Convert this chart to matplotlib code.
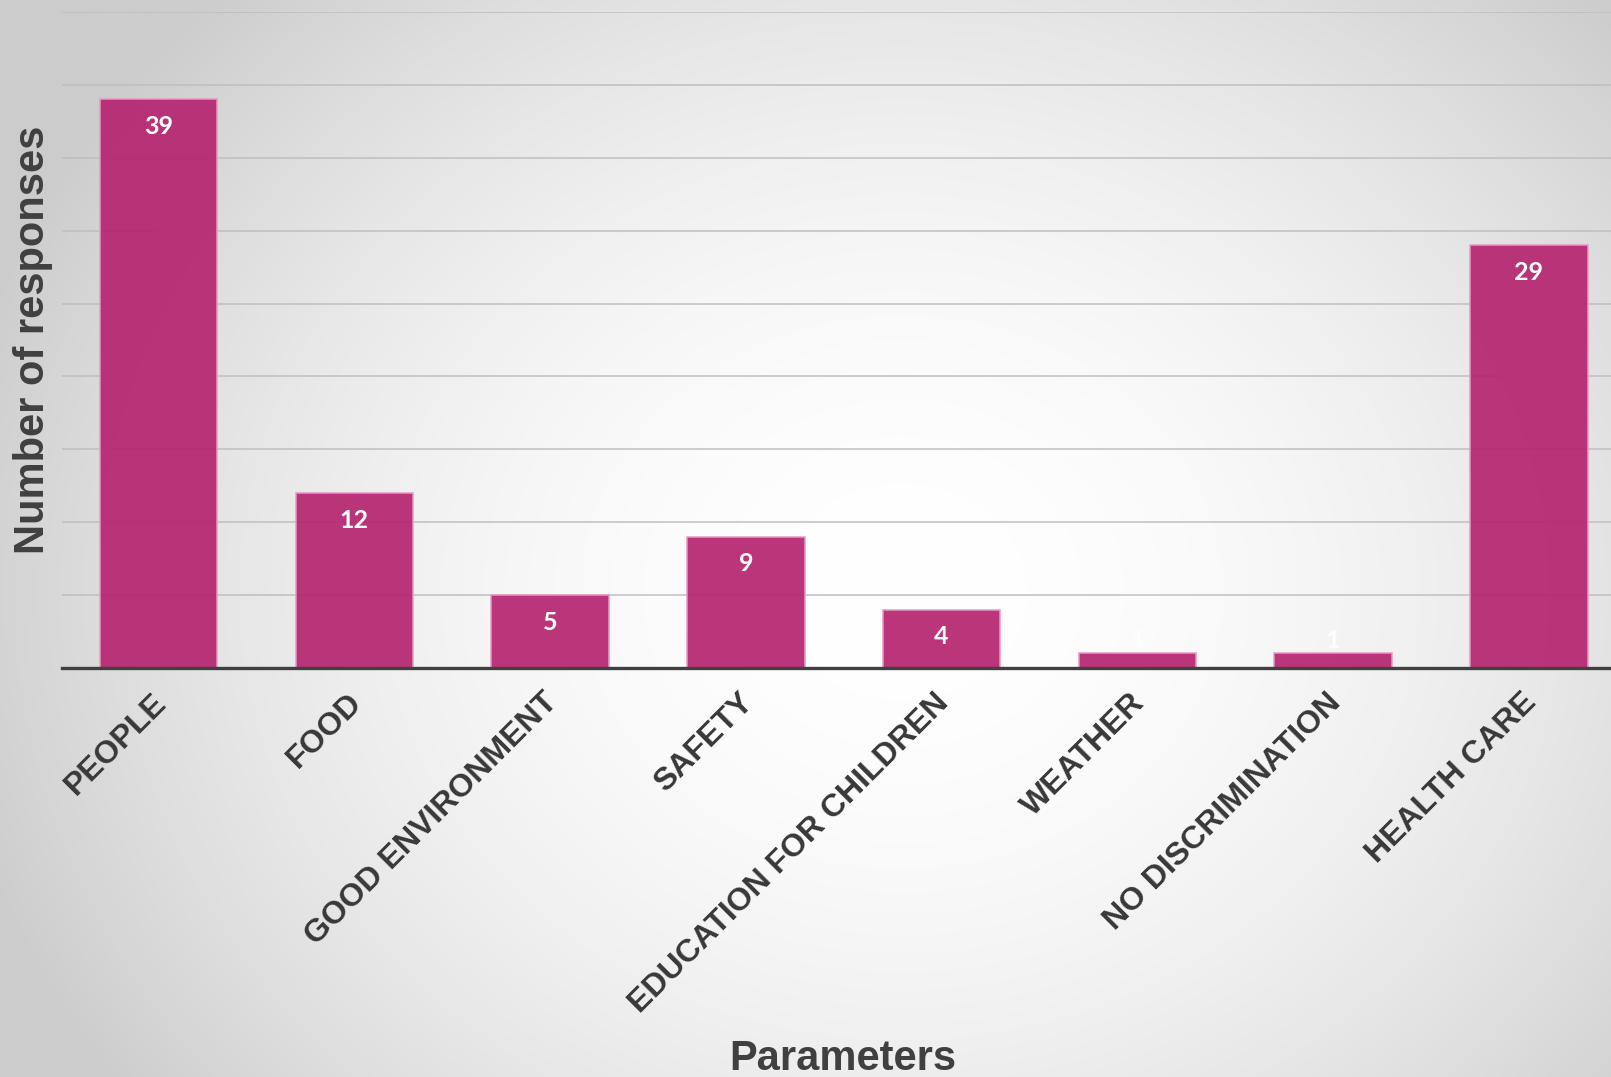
import numpy as np
import matplotlib
matplotlib.use("Agg")
import matplotlib.pyplot as plt
import matplotlib.transforms as mtransforms

categories = ["PEOPLE", "FOOD", "GOOD ENVIRONMENT", "SAFETY", "EDUCATION FOR CHILDREN",
              "WEATHER", "NO DISCRIMINATION", "HEALTH CARE"]
values = [39, 12, 5, 9, 4, 1, 1, 29]
yticks = [5, 10, 15, 20, 25, 30, 35, 40, 45]

W, H = 1611, 1077
fig = plt.figure(figsize=(W / 100, H / 100), dpi=100)

# radial gradient background
bg = fig.add_axes([0, 0, 1, 1], zorder=-10)
yy, xx = np.mgrid[0:1:400j, 0:1:600j]
d = np.sqrt(((xx - 0.56) / 0.85) ** 2 + ((yy - 0.55) / 1.1) ** 2)
drop = np.minimum(0.376 * d ** 1.91, 0.2)
val = np.clip(1 - drop, 0, 1)
bg.imshow(np.dstack([val, val, val]), extent=[0, 1, 0, 1], origin="upper", aspect="auto",
          interpolation="bilinear")
bg.set_axis_off()

ax = fig.add_axes([62 / W, 1 - 668 / H, 1 - 62 / W, (668 - 12) / H])
ax.patch.set_alpha(0)
x = np.arange(len(categories))
bars = ax.bar(x, values, width=0.6, color="#b5246f", alpha=0.92, edgecolor="#e79ac2",
              linewidth=1.2, zorder=3)
ax.set_xlim(-0.494, 7.42)
ax.set_ylim(0, 45)
ax.set_yticks(yticks)
ax.yaxis.grid(True, color="#bdbdbd", linewidth=1.4, zorder=1)
for g in ax.get_ygridlines():
    g.set_zorder(4)
    g.set_alpha(0.75)
ax.tick_params(axis="y", length=0, labelleft=False)
ax.tick_params(axis="x", length=0, pad=14)
for s in ["top", "right", "left"]:
    ax.spines[s].set_visible(False)
ax.spines["bottom"].set_color("#404040")
ax.spines["bottom"].set_linewidth(2.4)
ax.spines["bottom"].set_zorder(5)

ax.set_xticks(x)
ax.set_xticklabels(categories, rotation=45, ha="right", rotation_mode="default",
                   fontsize=23, fontweight="bold", color="#383838", family="Liberation Sans")
offset = mtransforms.ScaledTranslation(13.5 / 100, 0, fig.dpi_scale_trans)
for lbl in ax.get_xticklabels():
    lbl.set_transform(lbl.get_transform() + offset)

for xi, v in zip(x, values):
    if v > 2:
        ax.annotate(str(v), (xi, v), xytext=(0, -27), textcoords="offset pixels",
                    ha="center", va="center", color="white", fontsize=18,
                    fontweight="bold", family="Lato", zorder=6)
    else:
        ax.annotate(str(v), (xi, v), xytext=(0, 13), textcoords="offset pixels",
                    ha="center", va="center", color="white", fontsize=18,
                    fontweight="bold", family="Lato", zorder=6, alpha=0.9)

fig.text(33 / W, 1 - 340 / H, "Number of responses", rotation=90, ha="center", va="center",
         fontsize=30, fontweight="bold", color="#404040", family="Liberation Sans")
fig.text(843 / W, 1 - 1070 / H, "Parameters", ha="center", va="baseline",
         fontsize=30, fontweight="bold", color="#404040", family="Liberation Sans")

fig.savefig("out.png", dpi=100)
